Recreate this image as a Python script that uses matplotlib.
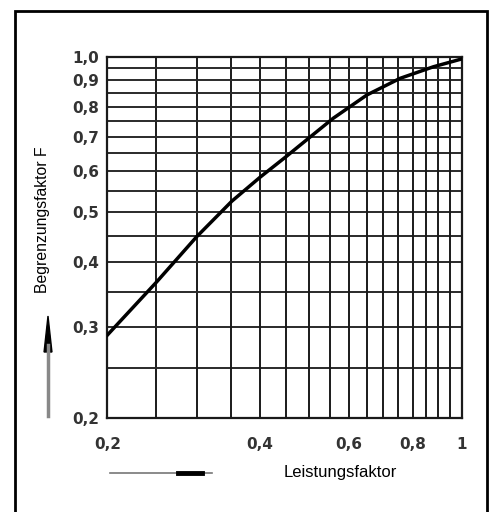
import numpy as np
import matplotlib
matplotlib.use('Agg')
import matplotlib.pyplot as plt
from matplotlib.patches import Rectangle, FancyArrow
from matplotlib.lines import Line2D

# curve
leistung = [0.20, 0.25, 0.30, 0.352, 0.40, 0.45, 0.48, 0.558, 0.65, 0.756, 0.879, 1.0]
faktor = [0.289, 0.366, 0.448, 0.525, 0.584, 0.640, 0.674, 0.760, 0.843, 0.908, 0.956, 0.990]

x_ticks = [0.2, 0.4, 0.6, 0.8, 1.0]
x_labels = ['0,2', '0,4', '0,6', '0,8', '1']
y_ticks = [0.2, 0.3, 0.4, 0.5, 0.6, 0.7, 0.8, 0.9, 1.0]
y_labels = ['0,2', '0,3', '0,4', '0,5', '0,6', '0,7', '0,8', '0,9', '1,0']
grid_vals = np.round(np.arange(0.2, 1.0001, 0.05), 2)

W, H = 494, 512
fig = plt.figure(figsize=(W / 100, H / 100), dpi=100)
ax = fig.add_axes([107.3 / W, 1 - 417.7 / H, 354.4 / W, 361 / H])
ax.set_xscale('log')
ax.set_yscale('log')
ax.set_xlim(0.2, 1.0)
ax.set_ylim(0.2, 1.0)

for g in grid_vals:
    ax.axvline(g, color='#1a1a1a', lw=1.4, zorder=1)
    ax.axhline(g, color='#2a2a2a', lw=1.4, zorder=1)

ax.plot(leistung, faktor, color='black', lw=2.5, zorder=3, solid_joinstyle='round')

ax.minorticks_off()
ax.set_xticks(x_ticks)
ax.set_xticklabels(x_labels)
ax.set_yticks(y_ticks)
ax.set_yticklabels(y_labels)
ax.tick_params(length=0, labelsize=11, labelcolor='#333333')
ax.tick_params(axis='x', pad=14)
ax.tick_params(axis='y', pad=6)
for lab in ax.get_xticklabels() + ax.get_yticklabels():
    lab.set_fontweight('bold')
for s in ax.spines.values():
    s.set_color('#1a1a1a')
    s.set_linewidth(1.6)

# axis titles
fig.text(43 / W, 1 - 220 / H, 'Begrenzungsfaktor F', rotation=90,
         ha='center', va='center', fontsize=11.3, family='Liberation Sans')
fig.text(340 / W, 1 - 473 / H, 'Leistungsfaktor', ha='center', va='center',
         fontsize=12, family='Liberation Sans')

# direction arrows
fig.add_artist(Line2D([48 / W, 48 / W], [1 - 416 / H, 1 - 345 / H],
                      color='#888888', lw=2.5))
fig.add_artist(FancyArrow(48 / W, 1 - 352 / H, 0, 36 / H, width=0.012,
                          head_width=0.016, head_length=36 / H, length_includes_head=True,
                          color='black', transform=fig.transFigure))
fig.add_artist(Line2D([110 / W, 212 / W], [1 - 473 / H, 1 - 473 / H],
                      color='#777777', lw=1.2))
fig.add_artist(Line2D([178 / W, 202 / W], [1 - 473 / H, 1 - 473 / H],
                      color='black', lw=3.5))

# outer frame (open at bottom)
fig.add_artist(Rectangle((15 / W, -0.05), (487 - 15) / W, 1.05 - 11 / H,
                         fill=False, edgecolor='black', lw=2,
                         transform=fig.transFigure))

fig.savefig('out.png', dpi=100)
